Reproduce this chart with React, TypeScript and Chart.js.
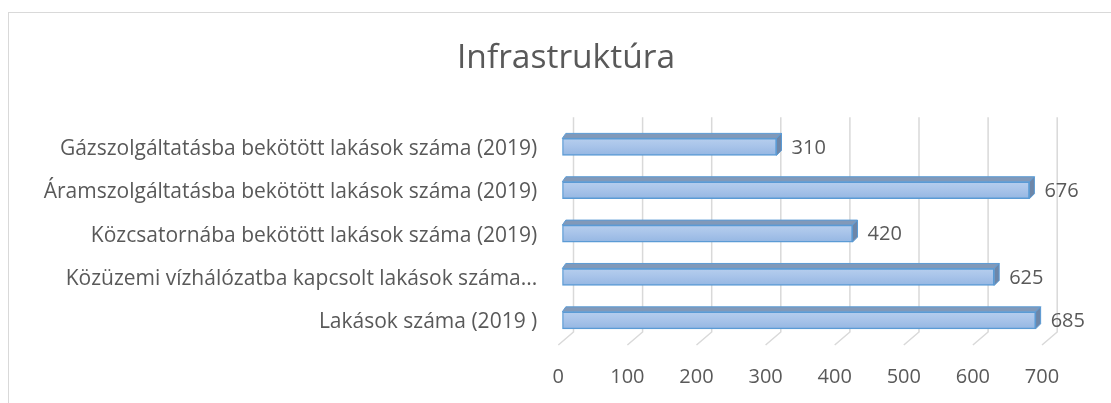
import React, { useEffect, useRef } from "react";
import { Chart, registerables } from "chart.js";

Chart.register(...registerables);

const title = "Infrastruktúra";
const categories = [
  "Gázszolgáltatásba bekötött lakások száma (2019)",
  "Áramszolgáltatásba bekötött lakások száma (2019)",
  "Közcsatornába bekötött lakások száma (2019)",
  "Közüzemi vízhálózatba kapcsolt lakások száma...",
  "Lakások száma (2019 )",
];
const values = [310, 676, 420, 625, 685];
const xMin = 0;
const xMax = 700;
const xStep = 100;

const FONT = "'Open Sans', 'Noto Sans', sans-serif";
const TEXT = "#595959";
const GRID = "#d9d9d9";
const DX = 5; // 3D depth offset of bars
const DY = 5;

const threeD = {
  id: "threeD",
  beforeDatasetsDraw(chart: any) {
    const { ctx, chartArea } = chart;
    const xs = chart.scales.x;
    ctx.save();
    ctx.strokeStyle = GRID;
    ctx.lineWidth = 1.5;
    for (let v = xMin; v <= xMax; v += xStep) {
      const px = xs.getPixelForValue(v);
      const bx = px + 11.2;
      ctx.beginPath();
      ctx.moveTo(bx, chartArea.top - 8);
      ctx.lineTo(bx, chartArea.bottom - 10);
      ctx.lineTo(px - 4, chartArea.bottom + 3);
      ctx.stroke();
    }
    ctx.restore();
  },
  afterDatasetsDraw(chart: any) {
    const { ctx } = chart;
    const meta = chart.getDatasetMeta(0);
    ctx.save();
    meta.data.forEach((el: any, i: number) => {
      const { x, y, base, height } = el.getProps(["x", "y", "base", "height"], true);
      const top = y - height / 2;
      const bottom = y + height / 2;
      ctx.lineWidth = 1;
      ctx.strokeStyle = "#5b9bd5";
      // top face
      ctx.beginPath();
      ctx.moveTo(base, top);
      ctx.lineTo(base + DX * 0.7, top - DY);
      ctx.lineTo(x + DX, top - DY);
      ctx.lineTo(x, top);
      ctx.closePath();
      ctx.fillStyle = "#8199b9";
      ctx.fill();
      ctx.stroke();
      // side face
      ctx.beginPath();
      ctx.moveTo(x, top);
      ctx.lineTo(x + DX, top - DY);
      ctx.lineTo(x + DX, bottom - DY);
      ctx.lineTo(x, bottom);
      ctx.closePath();
      ctx.fillStyle = "#6d86a8";
      ctx.fill();
      ctx.stroke();
      // value label
      ctx.fillStyle = TEXT;
      ctx.font = `20px ${FONT}`;
      ctx.textAlign = "left";
      ctx.textBaseline = "middle";
      ctx.fillText(String(values[i]), x + DX + 10, y + 1);
    });
    ctx.restore();
  },
};

export default function App() {
  const ref = useRef<HTMLCanvasElement>(null);
  useEffect(() => {
    if (!ref.current) return;
    const chart = new Chart(ref.current, {
      type: "bar",
      data: {
        labels: categories,
        datasets: [
          {
            data: values,
            backgroundColor: (c: any) => {
              const ch = c.chart;
              const ys = ch.scales && ch.scales.y;
              if (!ch.chartArea || !ys || c.dataIndex === undefined) return "#a6c2e8";
              const cy = ys.getPixelForValue(c.dataIndex);
              const g = ch.ctx.createLinearGradient(0, cy - 9, 0, cy + 9);
              g.addColorStop(0, "#b7cfee");
              g.addColorStop(0.5, "#a7c3e9");
              g.addColorStop(1, "#94b6e2");
              return g;
            },
            borderColor: "#5b9bd5",
            borderWidth: 1.5,
            borderSkipped: false,
            barThickness: 17,
          },
        ],
      },
      options: {
        indexAxis: "y",
        responsive: false,
        animation: false,
        devicePixelRatio: 1,
        layout: { padding: { left: 40, right: 19, top: 0, bottom: 14 } },
        plugins: {
          legend: { display: false },
          tooltip: { enabled: false },
          title: {
            display: true,
            text: title,
            color: TEXT,
            font: { family: FONT, size: 33.5, weight: "normal", lineHeight: 1.2 },
            padding: { top: 38, bottom: 47 },
          },
        },
        scales: {
          x: {
            min: xMin,
            max: xMax,
            grid: { display: false, drawTicks: false },
            border: { display: false },
            ticks: {
              stepSize: xStep,
              color: TEXT,
              font: { family: FONT, size: 20, lineHeight: 1.2 },
              padding: 23,
              labelOffset: -4,
              maxRotation: 0,
            },
            afterFit: (s: any) => {
              s.height = 47;
            },
          },
          y: {
            grid: { display: false, drawTicks: false },
            border: { display: false },
            ticks: {
              color: TEXT,
              font: { family: FONT, size: 21, lineHeight: 1.2 },
              padding: 25,
              labelOffset: 2,
              autoSkip: false,
            },
            afterFit: (s: any) => {
              s.width = 522.3;
              s.paddingTop = 0;
              s.paddingBottom = 0;
            },
          },
          yRight: {
            type: "category",
            position: "right",
            grid: { display: false, drawTicks: false },
            border: { display: false },
            ticks: { display: false },
            afterFit: (s: any) => {
              s.width = 46;
              s.paddingTop = 0;
              s.paddingBottom = 0;
            },
          },
        },
      },
      plugins: [threeD],
    } as any);
    return () => chart.destroy();
  }, []);

  return (
    <div
      style={{
        position: "fixed",
        left: 0,
        top: 0,
        width: 1111,
        height: 403,
        overflow: "hidden",
        background: "#ffffff",
      }}
    >
      <div
        style={{
          position: "absolute",
          left: 8,
          top: 12,
          width: 1300,
          height: 600,
          border: "1px solid #d9d9d9",
          boxSizing: "border-box",
        }}
      />
      <canvas
        ref={ref}
        width={1111}
        height={403}
        style={{ position: "absolute", left: 0, top: 0, width: 1111, height: 403 }}
      />
    </div>
  );
}
